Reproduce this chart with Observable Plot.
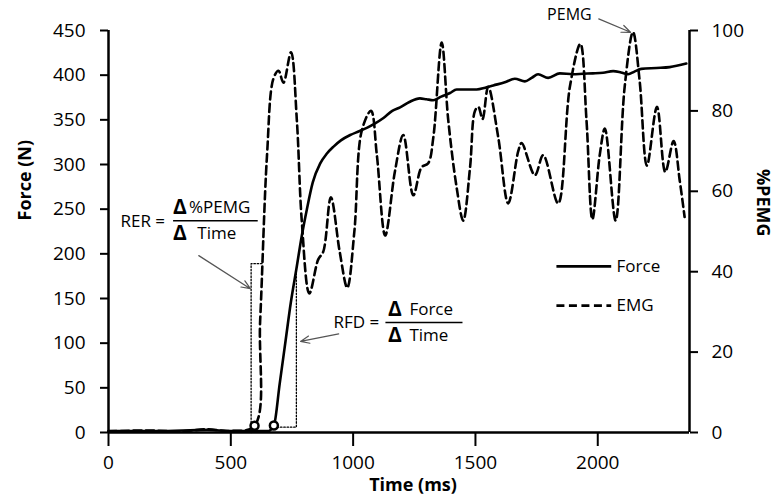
<!DOCTYPE html>
<html>
<head>
<meta charset="utf-8">
<script src="https://cdn.jsdelivr.net/npm/d3@7"></script>
<script src="https://cdn.jsdelivr.net/npm/@observablehq/plot@0.6"></script>
<style>
  body { margin: 0; background: #fff; }
  #chart { width: 781px; height: 502px; }
</style>
</head>
<body>
<div id="chart"></div>
<script>
// ---------- data ----------
const timeTicks  = [0, 500, 1000, 1500, 2000];
const forceTicks = [0, 50, 100, 150, 200, 250, 300, 350, 400, 450];
const emgTicks   = [0, 20, 40, 60, 80, 100];
const seriesNames = ["Force", "EMG"];

const forceTime = [0, 200, 404, 500, 650, 676, 700, 724, 745, 768, 790, 811, 835, 865, 892, 920, 950, 988, 1022, 1056, 1090, 1124, 1160, 1192, 1230, 1273, 1300, 1327, 1360, 1396, 1423, 1478, 1505, 1540, 1573, 1620, 1661, 1702, 1730, 1756, 1797, 1845, 1899, 1940, 1980, 2022, 2063, 2095, 2124, 2150, 2178, 2240, 2294, 2362];
const forceN    = [1.5, 1.5, 3, 1.5, 1.5, 7.8, 55, 103, 145, 183, 220, 250, 280, 301, 312, 320, 327, 333, 337, 341, 346, 352, 360, 364, 370, 374, 373, 372, 376, 380, 384, 384, 384, 386, 388.5, 392, 396, 393, 397, 401, 397, 402, 401, 401.6, 402, 402.7, 404.5, 403, 401, 404, 407, 408, 409, 413];

const emgTime = [0, 150, 300, 404, 500, 597, 620, 648, 674, 695, 715, 746, 770, 790, 821, 857, 878, 909, 945, 976, 1005, 1035, 1073, 1097, 1131, 1171, 1205, 1246, 1280, 1307, 1328, 1362, 1389, 1423, 1450, 1478, 1498, 1512, 1529, 1552, 1593, 1634, 1675, 1689, 1743, 1777, 1838, 1886, 1929, 1954, 1978, 2008, 2029, 2073, 2110, 2144, 2171, 2201, 2242, 2276, 2310, 2335, 2355];
const emgPct  = [0.3, 0.5, 0.3, 0.8, 0.4, 1.7, 28, 69, 88, 90, 87, 94.6, 77.6, 52.7, 34.6, 43, 45, 58.5, 45, 36, 50, 75, 80, 69, 49, 65, 74, 59, 66, 67, 73.5, 97, 77.6, 61, 52.7, 66, 80, 81, 78, 86, 73.5, 57, 70, 72, 64, 69, 57, 86, 96.7, 77.6, 53, 69, 75.6, 52.7, 86, 99.6, 87.6, 66.4, 81, 64.8, 72.5, 62.7, 53.6];

// onset markers (time in ms; EMG onset in %PEMG, force onset in N)
const emgOnset   = { t: 597, pct: 1.7 };
const forceOnset = { t: 676, n: 7.8 };

// ---------- scales ----------
const xMax = 2375, forceMax = 450, emgMax = 100;
const k = forceMax / emgMax;   // %PEMG -> Force axis units

const forceData = forceTime.map((t, i) => ({ t, v: forceN[i] }));
const emgData   = emgTime.map((t, i) => ({ t, v: emgPct[i] * k }));

// ---------- annotations (in data units: ms, N) ----------
const boxes = [
  { id: "RER", pts: [[583, 0], [583, 189], [631, 189]] },
  { id: "RFD", pts: [[676, 6], [768, 6], [768, 181]] }
];
const boxPts = boxes.flatMap(b => b.pts.map(p => ({ id: b.id, t: p[0], f: p[1] })));

const normalText = [
  { t: 49,   f: 236,   s: "RER =" },
  { t: 329,  f: 252,   s: "%PEMG" },
  { t: 363,  f: 223,   s: "Time" },
  { t: 920,  f: 123.5, s: "RFD =" },
  { t: 1230, f: 137.7, s: "Force" },
  { t: 1230, f: 108.6, s: "Time" },
  { t: 2077, f: 186,   s: seriesNames[0] },
  { t: 2077, f: 142,   s: seriesNames[1] }
];
const deltaText = [
  { t: 264,  f: 252 }, { t: 264, f: 223 },
  { t: 1143, f: 137.7 }, { t: 1143, f: 108.6 }
];
const fracLines = [
  { t1: 264, t2: 610, f: 237 },
  { t1: 1132, t2: 1447, f: 123 }
];
const arrows = [
  { t1: 369, f1: 198, t2: 580, f2: 161 },
  { t1: 941, f1: 110.5, t2: 785, f2: 102 },
  { t1: 2004, f1: 463, t2: 2134, f2: 448 }
];
const legendLines = [
  { t1: 1831, t2: 2055, f: 186, dash: null },
  { t1: 1831, t2: 2055, f: 142, dash: "8,4.5" }
];

const FONT = "'Open Sans', 'DejaVu Sans', sans-serif";

const chart = Plot.plot({
  width: 781,
  height: 502,
  marginLeft: 108,
  marginRight: 92,
  marginTop: 30,
  marginBottom: 70,
  style: { fontFamily: FONT, fontSize: "19px", color: "black", background: "white" },
  x: { domain: [0, xMax] },
  y: { domain: [0, forceMax] },
  marks: [
    // dotted boxes
    Plot.line(boxPts, { x: "t", y: "f", z: "id", stroke: "black", strokeWidth: 1.3, strokeDasharray: "1.5,1.8" }),
    // series
    Plot.line(forceData, { x: "t", y: "v", stroke: "black", strokeWidth: 2.6, curve: "monotone-x" }),
    Plot.line(emgData, { x: "t", y: "v", stroke: "black", strokeWidth: 2.6, strokeDasharray: "8,4.5", curve: "catmull-rom" }),
    // onset markers
    Plot.dot([{ t: emgOnset.t, y: emgOnset.pct * k }, { t: forceOnset.t, y: forceOnset.n }],
      { x: "t", y: "y", r: 4, stroke: "black", strokeWidth: 2.5, fill: "white" }),
    // axes lines
    Plot.ruleY([0], { stroke: "black", strokeWidth: 2.5 }),
    Plot.ruleX([0], { stroke: "black", strokeWidth: 2.5 }),
    Plot.ruleX([xMax], { stroke: "black", strokeWidth: 2.5 }),
    Plot.axisX({ ticks: timeTicks, tickFormat: d => String(d), tickSize: 14, tickPadding: 9, strokeWidth: 2, label: null }),
    Plot.axisY({ anchor: "left", ticks: forceTicks, tickFormat: d => String(d), tickSize: 8, tickPadding: 15, strokeWidth: 2, label: null }),
    Plot.axisY({ anchor: "right", ticks: emgTicks.map(v => v * k), tickFormat: d => String(Math.round(d / k)), tickSize: 8, tickPadding: 14, strokeWidth: 2, label: null }),
    // axis titles
    Plot.text(["Time (ms)"], { frameAnchor: "bottom", dx: 14, dy: 58, fontWeight: "bold", fontSize: 18 }),
    Plot.text(["Force (N)"], { frameAnchor: "left", dx: -83, dy: -11, rotate: -90, fontWeight: "bold", fontSize: 18 }),
    Plot.text(["%PEMG"], { frameAnchor: "right", dx: 73, dy: 5, rotate: 90, fontWeight: "bold", fontSize: 18 }),
    // annotation texts
    Plot.text(normalText, { x: "t", y: "f", text: "s", textAnchor: "start", fontSize: 17 }),
    Plot.text(deltaText, { x: "t", y: "f", text: () => "Δ", textAnchor: "start", fontSize: 21, fontWeight: "bold" }),
    Plot.text(["PEMG"], { x: () => 1793, y: () => 467, textAnchor: "start", fontSize: 16 }),
    Plot.link(fracLines, { x1: "t1", x2: "t2", y1: "f", y2: "f", stroke: "black", strokeWidth: 1.5 }),
    Plot.arrow(arrows, { x1: "t1", y1: "f1", x2: "t2", y2: "f2", stroke: "#555", strokeWidth: 1.2, headLength: 12, headAngle: 45 }),
    // legend
    Plot.link(legendLines.filter(d => !d.dash), { x1: "t1", x2: "t2", y1: "f", y2: "f", stroke: "black", strokeWidth: 2.6 }),
    Plot.link(legendLines.filter(d => d.dash), { x1: "t1", x2: "t2", y1: "f", y2: "f", stroke: "black", strokeWidth: 2.6, strokeDasharray: "8,4.5" })
  ]
});
document.getElementById("chart").appendChild(chart);
</script>
</body>
</html>
